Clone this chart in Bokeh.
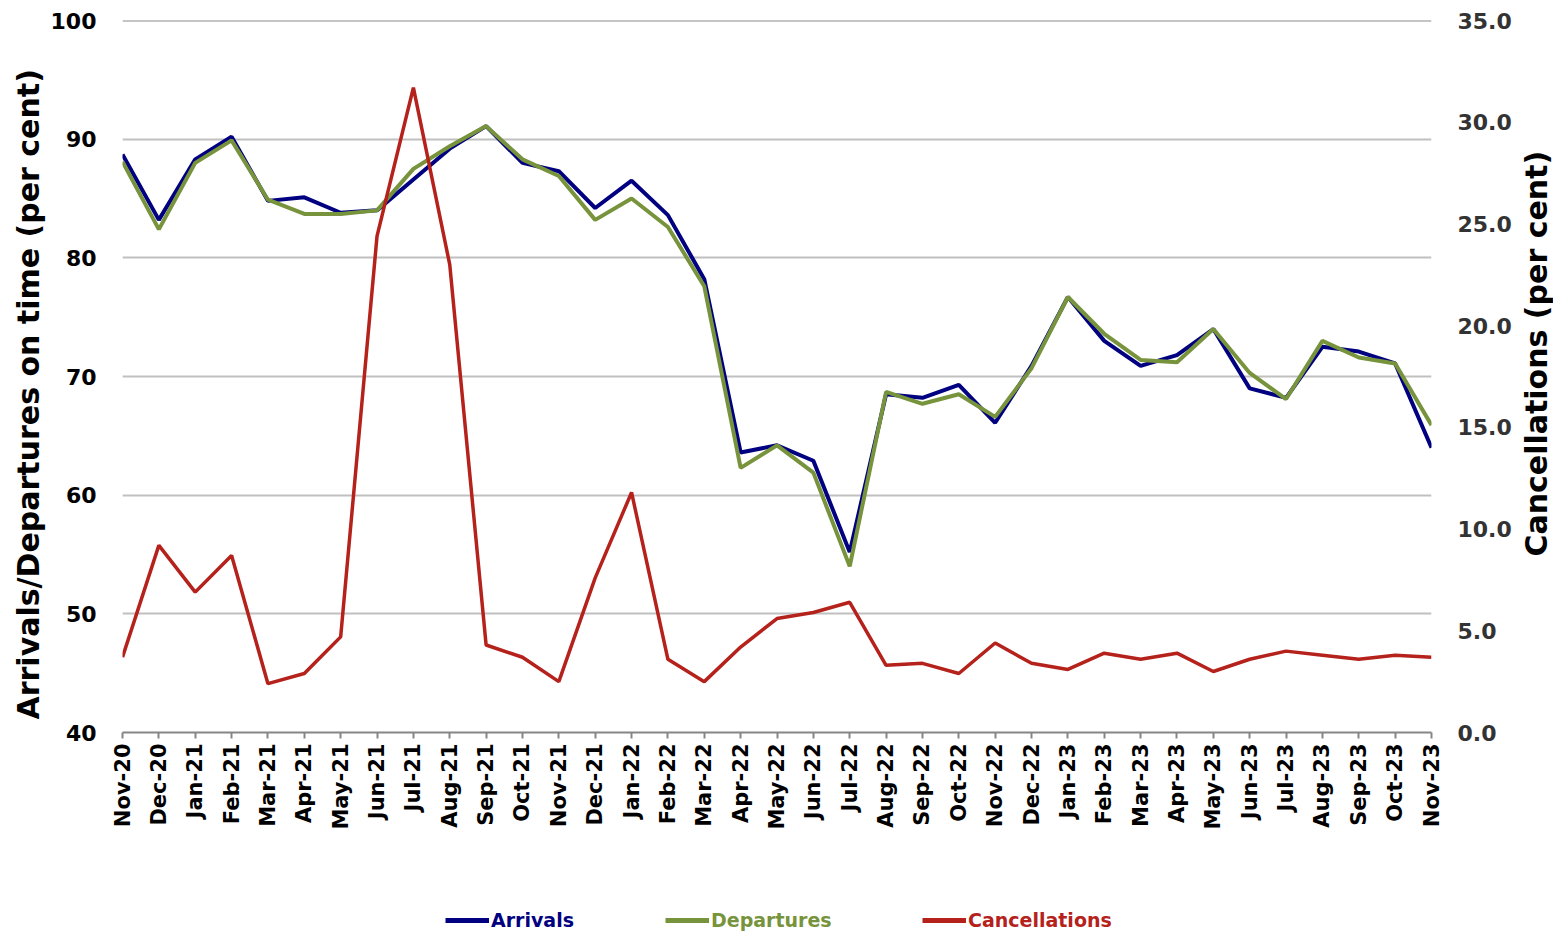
import math
from bokeh.plotting import figure
from bokeh.layouts import column, row
from bokeh.models import (Range1d, LinearAxis, FixedTicker, PrintfTickFormatter,
                          Legend, LegendItem, Span, ColumnDataSource, Label)
from bokeh.embed import file_html
from bokeh.resources import INLINE

months = ["Nov-20", "Dec-20", "Jan-21", "Feb-21", "Mar-21", "Apr-21", "May-21", "Jun-21",
          "Jul-21", "Aug-21", "Sep-21", "Oct-21", "Nov-21", "Dec-21", "Jan-22", "Feb-22",
          "Mar-22", "Apr-22", "May-22", "Jun-22", "Jul-22", "Aug-22", "Sep-22", "Oct-22",
          "Nov-22", "Dec-22", "Jan-23", "Feb-23", "Mar-23", "Apr-23", "May-23", "Jun-23",
          "Jul-23", "Aug-23", "Sep-23", "Oct-23", "Nov-23"]

arrivals = [88.7, 83.2, 88.3, 90.2, 84.8, 85.1, 83.8, 84.0, 86.6, 89.2, 91.1, 88.0, 87.3,
            84.2, 86.5, 83.6, 78.2, 63.6, 64.2, 62.9, 55.2, 68.5, 68.2, 69.3, 66.1, 70.9,
            76.7, 73.0, 70.9, 71.8, 74.0, 69.0, 68.2, 72.5, 72.1, 71.1, 64.0]

departures = [88.1, 82.4, 88.0, 89.9, 84.9, 83.7, 83.7, 84.0, 87.5, 89.4, 91.1, 88.3, 86.9,
              83.2, 85.0, 82.6, 77.6, 62.3, 64.2, 61.9, 54.0, 68.7, 67.7, 68.5, 66.6, 70.7,
              76.7, 73.6, 71.4, 71.2, 74.0, 70.3, 68.1, 73.0, 71.6, 71.1, 65.9]

cancellations = [3.7, 9.2, 6.9, 8.7, 2.4, 2.9, 4.7, 24.4, 31.7, 23.0, 4.3, 3.7, 2.5,
                 7.6, 11.8, 3.6, 2.5, 4.2, 5.6, 5.9, 6.4, 3.3, 3.4, 2.9, 4.4, 3.4,
                 3.1, 3.9, 3.6, 3.9, 3.0, 3.6, 4.0, 3.8, 3.6, 3.8, 3.7]

left_ticks = [40, 50, 60, 70, 80, 90, 100]
right_ticks = [0, 5, 10, 15, 20, 25, 30, 35]

left_title = "Arrivals/Departures on time (per cent)"
right_title = "Cancellations (per cent)"

NAVY = "#000080"
GREEN = "#77933C"
RED = "#B5211B"
FONT = "DejaVu Sans"

TOP, BOTTOM = 20, 165
LSTRIP, LBORDER = 47, 69

x = list(range(len(months)))
src = ColumnDataSource(dict(x=x, arr=arrivals, dep=departures, can=cancellations))

p = figure(frame_width=1309, frame_height=712, output_backend="svg", toolbar_location=None,
           x_range=Range1d(0, len(months) - 1), y_range=Range1d(40, 100),
           min_border_left=LBORDER, min_border_right=80, min_border_top=TOP,
           min_border_bottom=BOTTOM)
p.extra_y_ranges = {"right": Range1d(0, 35)}
p.outline_line_color = None
p.background_fill_color = "white"
p.border_fill_color = "white"

# grid
p.xgrid.visible = False
p.ygrid.ticker = FixedTicker(ticks=left_ticks)
p.ygrid.grid_line_color = "#C0C0C0"
p.ygrid.grid_line_width = 2
p.add_layout(Span(location=100, dimension="width", line_color="#8C8C8C", line_width=2))

# x axis
xa = p.xaxis[0]
xa.ticker = FixedTicker(ticks=x)
xa.major_label_overrides = {i: m for i, m in enumerate(months)}
xa.major_label_orientation = math.pi / 2
xa.major_label_text_font = FONT
xa.major_label_text_font_style = "bold"
xa.major_label_text_font_size = "21px"
xa.major_label_text_color = "black"
xa.major_label_standoff = 5
xa.axis_line_color = "#868686"
xa.axis_line_width = 2
xa.major_tick_line_color = "#868686"
xa.major_tick_line_width = 2
xa.major_tick_out = 6
xa.major_tick_in = 0
xa.minor_tick_line_color = None

# left axis
ya = p.yaxis[0]
ya.ticker = FixedTicker(ticks=left_ticks)
ya.major_label_text_font = FONT
ya.major_label_text_font_style = "bold"
ya.major_label_text_font_size = "22px"
ya.major_label_text_color = "black"
ya.major_label_standoff = 20
ya.axis_line_color = None
ya.major_tick_line_color = None
ya.minor_tick_line_color = None

# right axis
ra = LinearAxis(y_range_name="right", ticker=FixedTicker(ticks=right_ticks),
                formatter=PrintfTickFormatter(format="%.1f"))
ra.major_label_text_font = FONT
ra.major_label_text_font_style = "bold"
ra.major_label_text_font_size = "22px"
ra.major_label_text_color = "#333333"
ra.major_label_standoff = 20
ra.axis_line_color = None
ra.major_tick_line_color = None
ra.minor_tick_line_color = None
p.add_layout(ra, "right")

p.line("x", "arr", source=src, line_color=NAVY, line_width=4)
p.line("x", "dep", source=src, line_color=GREEN, line_width=4)
p.line("x", "can", source=src, line_color=RED, line_width=3.5, y_range_name="right")

total_h = TOP + 712 + BOTTOM

def title_strip(width, text, xpos, ypos):
    tf = figure(width=width, height=total_h, output_backend="svg", toolbar_location=None,
                x_range=Range1d(0, 1), y_range=Range1d(0, 1),
                min_border_left=0, min_border_right=0, min_border_top=TOP,
                min_border_bottom=BOTTOM)
    tf.axis.visible = False
    tf.grid.visible = False
    tf.outline_line_color = None
    tf.add_layout(Label(x=xpos, y=ypos, text=text, angle=math.pi / 2,
                        text_align="center", text_baseline="middle",
                        text_font=FONT, text_font_style="bold", text_font_size="30px",
                        text_color="black"))
    return tf

tl = title_strip(LSTRIP, left_title, 0.6, 0.475)
tr = title_strip(43, right_title, 0.5, 0.532)

# legend strip below the chart (one legend per series so each label keeps its colour)
lg = figure(width=1550, height=46, output_backend="svg", toolbar_location=None,
            x_range=Range1d(0, 1), y_range=Range1d(0, 1),
            min_border_left=122, min_border_right=0,
            min_border_top=0, min_border_bottom=0)
lg.axis.visible = False
lg.grid.visible = False
lg.outline_line_color = None

def make_legend(label, color, xpos):
    rend = lg.line(x=[0, 1], y=[float("nan"), float("nan")], line_color=color, line_width=5)
    leg = Legend(items=[LegendItem(label=label, renderers=[rend])],
                 location=(xpos, 12), orientation="horizontal",
                 border_line_color=None, background_fill_alpha=0,
                 padding=0, margin=0, glyph_width=44, glyph_height=20,
                 label_standoff=2, label_height=20,
                 label_text_font=FONT, label_text_font_style="bold",
                 label_text_font_size="19px", label_text_color=color)
    lg.add_layout(leg)

make_legend("Arrivals", NAVY, 323)
make_legend("Departures", GREEN, 543)
make_legend("Cancellations", RED, 800)

layout = column(row(tl, p, tr, spacing=0), lg, spacing=0)
open("out.html", "w").write(file_html(layout, INLINE))
